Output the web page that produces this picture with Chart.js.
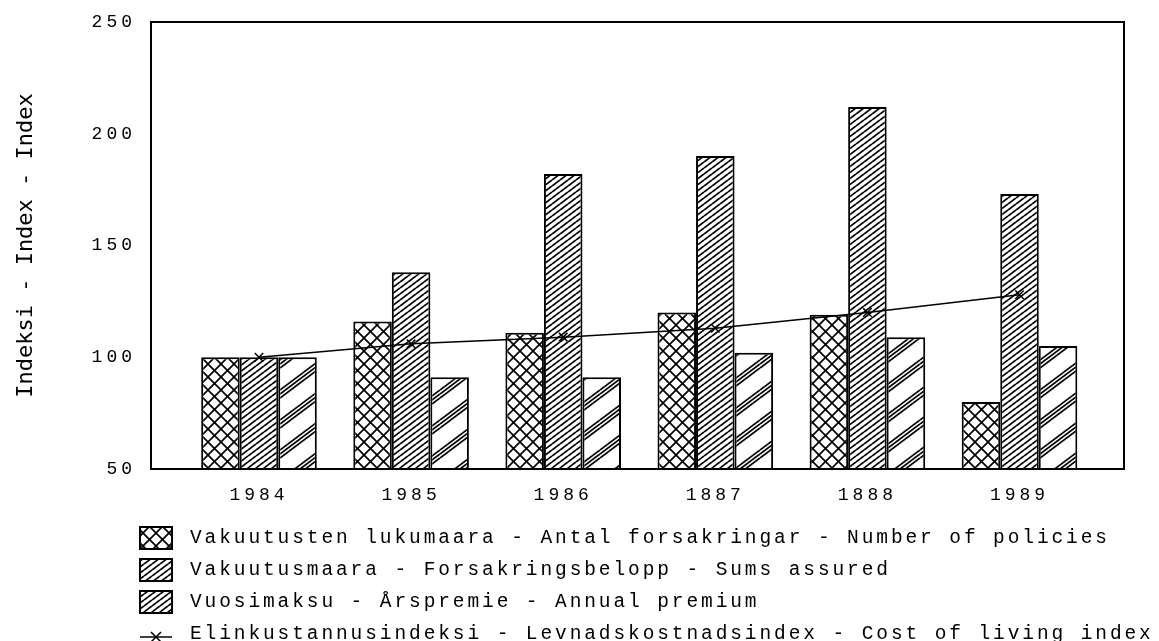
<!DOCTYPE html>
<html>
<head>
<meta charset="utf-8">
<script src="https://cdn.jsdelivr.net/npm/chart.js@4.4.1/dist/chart.umd.min.js"></script>
<style>
  html, body { margin: 0; padding: 0; background: #fff; }
  #wrap { width: 1159px; height: 641px; }
</style>
</head>
<body>
<div id="wrap"><canvas id="chart"></canvas></div>
<script>
// values (index, 1984 = 100)
const years = ['1984', '1985', '1986', '1887', '1888', '1989'];
const policies = [100, 116, 111, 120, 119, 80];
const sumsAssured = [100, 138, 182, 190, 212, 173];
const annualPremium = [100, 91, 91, 102, 109, 105];
const costOfLiving = [100, 106, 109, 113, 120, 128];
const yTicks = [50, 100, 150, 200, 250];
const seriesLabels = [
    'Vakuutusten lukumaara - Antal forsakringar - Number of policies',
    'Vakuutusmaara - Forsakringsbelopp - Sums assured',
    'Vuosimaksu - Årspremie - Annual premium',
    'Elinkustannusindeksi - Levnadskostnadsindex - Cost of living index',
];

// hatch tiles: lines rising left to right, optional crossing set
function hatch(w, h, offsets, cross) {
    const c = document.createElement('canvas');
    c.width = w;
    c.height = h;
    const g = c.getContext('2d');
    g.fillStyle = '#fff';
    g.fillRect(0, 0, w, h);
    g.strokeStyle = '#000';
    g.lineWidth = 1.7;
    for (const o of offsets) {
        for (let k = -1; k <= 1; k++) {
            g.beginPath();
            g.moveTo(0, h + o + k * h);
            g.lineTo(w, o + k * h);
            g.stroke();
            if (cross) {
                g.beginPath();
                g.moveTo(0, o + k * h);
                g.lineTo(w, h + o + k * h);
                g.stroke();
            }
        }
    }
    return g.createPattern(c, 'repeat');
}

const crossPat = hatch(13, 13, [0], true);
const densePat = hatch(8, 6, [0], false);
const bundlePat = hatch(40, 30, [0, 4, 8], false);
// the printed key shows both single-hatch series with the dense hatch
const keyFills = [crossPat, densePat, densePat];

const xy = vals => vals.map((v, i) => ({ x: i, y: v }));
const monoTicks = { family: 'Liberation Mono', size: 18 };

function drawX(ctx, x, y, r) {
    ctx.beginPath();
    ctx.moveTo(x - r, y - r); ctx.lineTo(x + r, y + r);
    ctx.moveTo(x - r, y + r); ctx.lineTo(x + r, y - r);
    ctx.stroke();
}

const framePlugin = {
    id: 'frame',
    beforeDraw(chart) {
        chart.ctx.letterSpacing = '0px';
    },
    afterDatasetsDraw(chart) {
        const { ctx, chartArea: a } = chart;
        ctx.save();
        ctx.strokeStyle = '#000';
        ctx.lineWidth = 2;
        ctx.strokeRect(a.left, a.top, a.right - a.left, a.bottom - a.top);
        ctx.restore();
        // tick labels (z: 1) come next, drawn with wide plotter spacing
        ctx.letterSpacing = '4px';
    },
    afterDraw(chart) {
        const ctx = chart.ctx;
        ctx.letterSpacing = '0px';
        const rows = [538, 570, 602, 634];
        ctx.save();
        ctx.strokeStyle = '#000';
        chart.data.datasets.forEach((ds, i) => {
            const y = rows[i];
            if (ds.type === 'line') {
                ctx.lineWidth = 1.5;
                ctx.beginPath();
                ctx.moveTo(140, y + 3);
                ctx.lineTo(172, y + 3);
                ctx.stroke();
                drawX(ctx, 156, y + 3, 5);
            } else {
                ctx.fillStyle = keyFills[i];
                ctx.fillRect(140, y - 11, 32, 22);
                ctx.lineWidth = 2;
                ctx.strokeRect(140, y - 11, 32, 22);
            }
            ctx.letterSpacing = '2.9px';
            ctx.font = '19.5px "Liberation Mono"';
            ctx.fillStyle = '#000';
            ctx.textBaseline = 'middle';
            ctx.fillText(ds.label, 190, y);
            ctx.letterSpacing = '0px';
        });
        ctx.restore();
    }
};

new Chart(document.getElementById('chart'), {
    type: 'bar',
    data: {
        datasets: [
            { label: seriesLabels[0], data: xy(policies), backgroundColor: crossPat, borderColor: '#000', borderWidth: 2, order: 1 },
            { label: seriesLabels[1], data: xy(sumsAssured), backgroundColor: densePat, borderColor: '#000', borderWidth: 2, order: 1 },
            { label: seriesLabels[2], data: xy(annualPremium), backgroundColor: bundlePat, borderColor: '#000', borderWidth: 2, order: 1 },
            {
                type: 'line', label: seriesLabels[3], data: xy(costOfLiving),
                borderColor: '#000', borderWidth: 1.5, fill: false, tension: 0,
                pointStyle: 'crossRot', pointRadius: 6, pointBorderWidth: 1.5,
                pointBorderColor: '#000', pointBackgroundColor: '#000', order: 0
            }
        ]
    },
    options: {
        responsive: true,
        maintainAspectRatio: false,
        animation: false,
        layout: { padding: { top: 22, right: 35, left: 0, bottom: 0 } },
        plugins: { legend: { display: false }, tooltip: { enabled: false } },
        datasets: { bar: { categoryPercentage: 0.76, barPercentage: 1 } },
        scales: {
            x: {
                type: 'linear',
                offset: false,
                min: -0.71,
                max: 5.687,
                grid: { display: false, drawTicks: false, offset: false },
                border: { display: false },
                afterBuildTicks: s => { s.ticks = years.map((y, i) => ({ value: i })); },
                afterFit: s => { s.height = 641 - 469; s.paddingLeft = 0; s.paddingRight = 0; },
                ticks: {
                    callback: v => years[v],
                    font: monoTicks, color: '#000', padding: 15,
                    maxRotation: 0, autoSkip: false, z: 1
                }
            },
            y: {
                min: 50,
                max: 250,
                grid: { display: false, drawTicks: false },
                border: { display: false },
                afterBuildTicks: s => { s.ticks = yTicks.map(v => ({ value: v })); },
                afterFit: s => { s.width = 151; s.paddingTop = 0; s.paddingBottom = 0; },
                ticks: { font: monoTicks, color: '#000', padding: 15, z: 1 },
                title: {
                    display: true,
                    text: 'Indeksi - Index - Index',
                    font: { family: 'DejaVu Sans Mono', size: 22 },
                    color: '#000',
                    padding: { top: 13, bottom: 0 }
                }
            }
        }
    },
    plugins: [framePlugin]
});
</script>
</body>
</html>
